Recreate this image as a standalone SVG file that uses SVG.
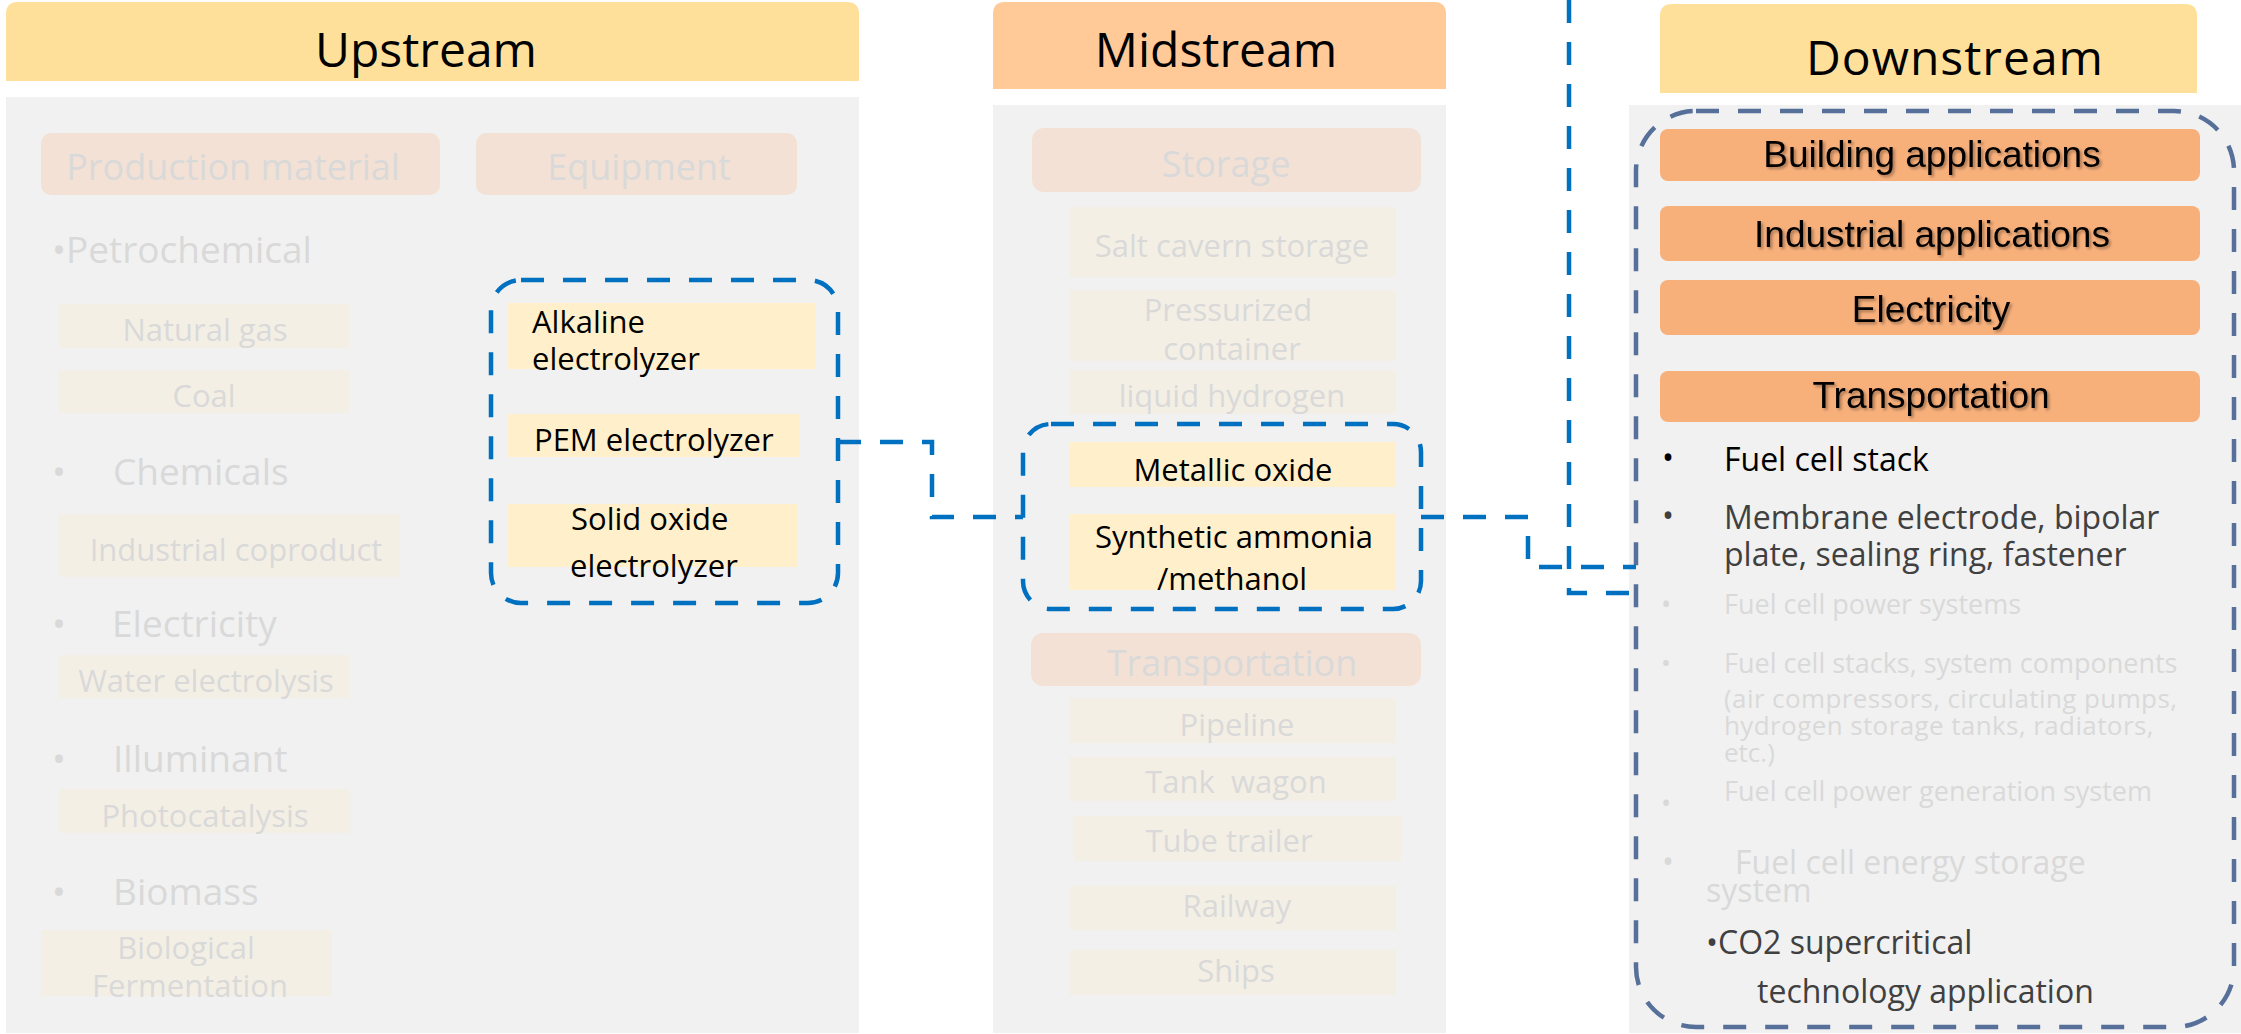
<svg xmlns="http://www.w3.org/2000/svg" width="2241" height="1034" viewBox="0 0 2241 1034">
<defs>
<style>
text{font-family:"Open Sans","Noto Sans","DejaVu Sans",sans-serif}
.ttl{font-size:48px;fill:#000;text-anchor:middle}
.hdrY{fill:#FFE09A}
.hdrO{fill:#FFC998}
.panel{fill:#F1F1F1}
.cat{fill:#F3E1D5}
.item{fill:#F4EFE5}
.hit{fill:#FFF0CB}
.dsbox{fill:#F8B07B}
.faint{fill:#D9D9D9}
.catT{font-size:36px;text-anchor:middle}
.itT{font-size:31px;text-anchor:middle}
.bul{font-size:37px}
.blk{fill:#000}
.dk{fill:#404040}
.ds{font-family:"Liberation Sans",Arial,sans-serif;font-size:37px;fill:#000;text-anchor:middle}
.blue{fill:none;stroke:#0070C0;stroke-width:4.5;stroke-dasharray:23 19}
.slate{fill:none;stroke:#56709A;stroke-width:4.5;stroke-dasharray:23 19}
</style>
<filter id="sh" x="-10%" y="-30%" width="120%" height="160%">
<feDropShadow dx="2" dy="2" stdDeviation="1.5" flood-color="#000" flood-opacity="0.35"/>
</filter>
</defs>

<g id="upstream">
<path class="hdrY" d="M6,81 V14 Q6,2 18,2 H847 Q859,2 859,14 V81 Z"/>
<text class="ttl" x="426" y="67">Upstream</text>
<rect class="panel" x="6" y="97" width="853" height="936"/>
<g id="production-material">
<rect class="cat" x="41" y="133" width="399" height="62" rx="10"/>
<text class="catT faint" x="233" y="180">Production material</text>
</g>
<g id="equipment">
<rect class="cat" x="476" y="133" width="321" height="62" rx="10"/>
<text class="catT faint" x="639" y="180">Equipment</text>
</g>
<text class="bul faint" x="52" y="263">•Petrochemical</text>
<g id="natural-gas"><rect class="item" x="59" y="304" width="290" height="44"/><text class="itT faint" x="205" y="341">Natural gas</text></g>
<g id="coal"><rect class="item" x="59" y="370" width="290" height="43"/><text class="itT faint" x="204" y="407">Coal</text></g>
<text class="bul faint" y="485"><tspan x="52">•</tspan><tspan x="113">Chemicals</tspan></text>
<g id="industrial-coproduct"><rect class="item" x="59" y="514" width="341" height="63"/><text class="itT faint" x="236" y="561">Industrial coproduct</text></g>
<text class="bul faint" y="637"><tspan x="52">•</tspan><tspan x="112">Electricity</tspan></text>
<g id="water-electrolysis"><rect class="item" x="59" y="655" width="290" height="43"/><text class="itT faint" x="206" y="692">Water electrolysis</text></g>
<text class="bul faint" y="772"><tspan x="52">•</tspan><tspan x="113">Illuminant</tspan></text>
<g id="photocatalysis"><rect class="item" x="59" y="789" width="291" height="44"/><text class="itT faint" x="205" y="827">Photocatalysis</text></g>
<text class="bul faint" y="905"><tspan x="52">•</tspan><tspan x="113">Biomass</tspan></text>
<g id="biological-fermentation"><rect class="item" x="41" y="930" width="291" height="66"/><text class="itT faint" y="959"><tspan x="186">Biological</tspan><tspan x="190" y="997">Fermentation</tspan></text></g>
</g>

<g id="electrolyzers">
<rect class="blue" x="491" y="280" width="347" height="323" rx="30"/>
<g id="alkaline"><rect class="hit" x="507" y="303" width="309" height="66"/><text class="blk" style="font-size:31px" x="532" y="333">Alkaline<tspan x="532" y="370">electrolyzer</tspan></text></g>
<g id="pem"><rect class="hit" x="508" y="414" width="291" height="43"/><text class="blk" style="font-size:31px" x="534" y="451">PEM electrolyzer</text></g>
<g id="solid-oxide"><rect class="hit" x="507" y="504" width="291" height="63"/><text class="blk" style="font-size:31px" x="571" y="530">Solid oxide<tspan x="570" y="577">electrolyzer</tspan></text></g>
</g>

<g id="midstream">
<path class="hdrO" d="M993,89 V14 Q993,2 1005,2 H1434 Q1446,2 1446,14 V89 Z"/>
<text class="ttl" x="1216" y="67">Midstream</text>
<rect class="panel" x="993" y="105" width="453" height="928"/>
<g id="storage"><rect class="cat" x="1032" y="128" width="389" height="64" rx="12"/><text class="catT faint" x="1226" y="177">Storage</text></g>
<g id="salt-cavern"><rect class="item" x="1070" y="207" width="326" height="70"/><text class="itT faint" x="1232" y="257">Salt cavern storage</text></g>
<g id="pressurized"><rect class="item" x="1070" y="290" width="326" height="71"/><text class="itT faint" y="321"><tspan x="1228">Pressurized</tspan><tspan x="1232" y="360">container</tspan></text></g>
<g id="liquid-hydrogen"><rect class="item" x="1070" y="370" width="326" height="44"/><text class="itT faint" x="1232" y="407">liquid hydrogen</text></g>
<g id="transportation-mid"><rect class="cat" x="1031" y="633" width="390" height="53" rx="12"/><text class="catT faint" x="1232" y="676">Transportation</text></g>
<g id="pipeline"><rect class="item" x="1070" y="698" width="326" height="45"/><text class="itT faint" x="1237" y="736">Pipeline</text></g>
<g id="tank-wagon"><rect class="item" x="1070" y="757" width="326" height="44"/><text class="itT faint" x="1236" y="793" xml:space="preserve">Tank  wagon</text></g>
<g id="tube-trailer"><rect class="item" x="1074" y="816" width="327" height="45"/><text class="itT faint" x="1229" y="852">Tube trailer</text></g>
<g id="railway"><rect class="item" x="1070" y="886" width="326" height="44"/><text class="itT faint" x="1237" y="917">Railway</text></g>
<g id="ships"><rect class="item" x="1070" y="950" width="326" height="45"/><text class="itT faint" x="1236" y="982">Ships</text></g>
</g>

<g id="carriers">
<rect class="blue" x="1023" y="424" width="398" height="185" rx="28"/>
<g id="metallic-oxide"><rect class="hit" x="1070" y="442" width="326" height="45"/><text class="blk" style="font-size:31px;text-anchor:middle" x="1233" y="481">Metallic oxide</text></g>
<g id="synthetic"><rect class="hit" x="1070" y="514" width="326" height="76"/><text class="blk" style="font-size:31px;text-anchor:middle" x="1234" y="548">Synthetic ammonia<tspan x="1232" y="590">/methanol</tspan></text></g>
</g>

<g id="downstream">
<path class="hdrY" d="M1660,93 V16 Q1660,4 1672,4 H2185 Q2197,4 2197,16 V93 Z"/>
<text class="ttl" x="1955" y="75" style="letter-spacing:1px">Downstream</text>
<rect class="panel" x="1629" y="105" width="612" height="928"/>
<rect class="slate" x="1636" y="111" width="598" height="916" rx="60"/>
<g id="building"><rect class="dsbox" x="1660" y="129" width="540" height="52" rx="8"/><text class="ds" filter="url(#sh)" x="1932" y="167">Building applications</text></g>
<g id="industrial"><rect class="dsbox" x="1660" y="206" width="540" height="55" rx="8"/><text class="ds" filter="url(#sh)" x="1932" y="247">Industrial applications</text></g>
<g id="electricity"><rect class="dsbox" x="1660" y="280" width="540" height="55" rx="8"/><text class="ds" filter="url(#sh)" x="1931" y="322">Electricity</text></g>
<g id="transportation-down"><rect class="dsbox" x="1660" y="371" width="540" height="51" rx="8"/><text class="ds" filter="url(#sh)" x="1931" y="408">Transportation</text></g>
<text class="blk" style="font-size:32px" y="469"><tspan x="1662">•</tspan><tspan x="1724" y="471">Fuel cell stack</tspan></text>
<text class="dk" style="font-size:32px" y="527"><tspan x="1662">•</tspan><tspan x="1724" y="529">Membrane electrode, bipolar</tspan><tspan x="1724" y="566">plate, sealing ring, fastener</tspan></text>
<text class="faint" style="font-size:27px" y="614"><tspan x="1661">•</tspan><tspan x="1724">Fuel cell power systems</tspan></text>
<text class="faint" style="font-size:26px" y="672"><tspan x="1661">•</tspan><tspan x="1724" y="673" style="font-size:27px">Fuel cell stacks, system components</tspan><tspan x="1724" y="708" style="letter-spacing:0.4px">(air compressors, circulating pumps,</tspan><tspan x="1724" y="735" style="letter-spacing:0.4px">hydrogen storage tanks, radiators,</tspan><tspan x="1724" y="762">etc.)</tspan></text>
<text class="faint" style="font-size:27px" y="813"><tspan x="1661">•</tspan><tspan x="1724" y="801">Fuel cell power generation system</tspan></text>
<text class="faint" style="font-size:32px" y="873"><tspan x="1662">•</tspan><tspan x="1735" y="874">Fuel cell energy storage</tspan><tspan x="1706" y="902">system</tspan></text>
<text class="dk" style="font-size:32px" x="1706" y="954">•CO2 supercritical<tspan x="1757" y="1003">technology application</tspan></text>
</g>

<g id="connectors">
<path class="blue" d="M838,442 H932 V517 H1023"/>
<path class="blue" d="M1421,517 H1528 V567 H1636"/>
<path class="blue" d="M1569,0 V593 H1647"/>
</g>
</svg>
